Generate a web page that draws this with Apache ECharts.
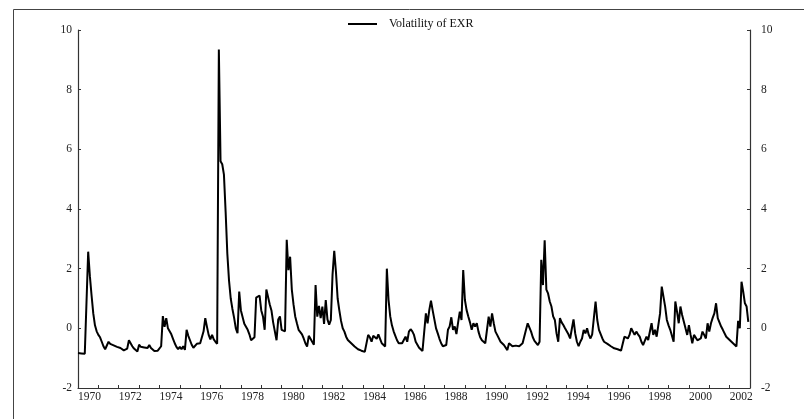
<!DOCTYPE html>
<html>
<head>
<meta charset="utf-8">
<script src="https://cdn.jsdelivr.net/npm/echarts@6/dist/echarts.min.js"></script>
<style>html,body{margin:0;padding:0;background:#fff}#c{width:804px;height:419px}</style>
</head>
<body>
<div id="c"></div>
<script>
// Monthly series, 1970:01 - 2002:12
var startYear = 1970;
var seriesName = 'Volatility of EXR';
var v1970 = [-0.83,-0.84,-0.84,-0.85,-0.85,-0.86,2.57,1.75,1.1,0.5,0.1,-0.1];
var v1971 = [-0.22,-0.3,-0.45,-0.6,-0.7,-0.76,-0.45,-0.52,-0.5,-0.57,-0.55,-0.62];
var v1972 = [-0.62,-0.66,-0.7,-0.74,-0.7,-0.68,-0.4,-0.5,-0.6,-0.68,-0.74,-0.78];
var v1973 = [-0.55,-0.62,-0.6,-0.64,-0.6,-0.66,-0.56,-0.66,-0.72,-0.76,-0.72,-0.75];
var v1974 = [-0.72,-0.6,0.41,0.05,0.34,0.0,-0.05,-0.2,-0.35,-0.5,-0.62,-0.7];
var v1975 = [-0.62,-0.7,-0.6,-0.72,-0.05,-0.25,-0.4,-0.55,-0.65,-0.6,-0.52,-0.5];
var v1976 = [-0.5,-0.52,-0.1,0.34,0.05,-0.22,-0.37,-0.22,-0.37,-0.45,-0.52,9.35];
var v1977 = [5.6,5.5,5.15,3.9,2.5,1.6,1.0,0.65,0.35,0.0,-0.16,1.23];
var v1978 = [0.6,0.55,0.15,0.2,-0.05,-0.2,-0.4,-0.35,-0.3,1.03,1.05,1.1];
var v1979 = [0.6,0.4,-0.05,1.3,1.05,0.8,0.6,0.2,-0.1,-0.4,0.3,0.4];
var v1980 = [-0.05,-0.1,-0.1,2.97,1.95,2.4,1.3,0.8,0.4,0.17,-0.05,-0.11];
var v1981 = [-0.2,-0.34,-0.5,-0.61,-0.25,-0.3,-0.45,-0.55,1.45,0.39,0.75,0.34];
var v1982 = [0.73,0.15,0.95,0.3,0.12,0.28,1.8,2.6,1.9,1.0,0.6,0.25];
var v1983 = [0.0,-0.11,-0.28,-0.39,-0.34,-0.5,-0.55,-0.61,-0.66,-0.7,-0.73,-0.75];
var v1984 = [-0.77,-0.79,-0.8,-0.22,-0.3,-0.45,-0.25,-0.3,-0.35,-0.2,-0.35,-0.5];
var v1985 = [-0.56,-0.61,2.0,0.95,0.4,0.1,-0.1,-0.25,-0.4,-0.5,-0.45,-0.5];
var v1986 = [-0.48,-0.28,-0.45,-0.11,-0.03,-0.1,-0.22,-0.45,-0.55,-0.65,-0.7,-0.76];
var v1987 = [-0.78,0.5,0.17,0.61,0.93,0.6,0.3,0.0,-0.17,-0.35,-0.5,-0.6];
var v1988 = [-0.61,-0.56,-0.05,0.06,0.37,-0.05,0.06,-0.19,0.2,0.56,0.28,1.95];
var v1989 = [0.95,0.61,0.4,0.2,-0.05,0.17,0.06,0.17,-0.11,-0.3,-0.4,-0.45];
var v1990 = [-0.5,-0.45,0.39,0.06,0.5,0.17,-0.11,-0.22,-0.28,-0.45,-0.5,-0.56];
var v1991 = [-0.6,-0.73,-0.5,-0.56,-0.6,-0.61,-0.58,-0.64,-0.6,-0.56,-0.5,-0.45];
var v1992 = [-0.05,0.17,0.19,-0.11,-0.3,-0.42,-0.45,-0.56,-0.45,2.3,1.45,2.95];
var v1993 = [1.3,1.17,0.9,0.73,0.4,0.28,-0.17,-0.45,0.34,0.2,0.11,0.0];
var v1994 = [-0.05,-0.2,-0.34,-0.28,0.3,-0.17,-0.45,-0.6,-0.45,-0.34,-0.05,-0.17];
var v1995 = [0.0,-0.22,-0.34,-0.2,-0.17,0.9,0.28,-0.05,-0.11,-0.34,-0.45,-0.48];
var v1996 = [-0.52,-0.56,-0.6,-0.61,-0.67,-0.68,-0.7,-0.75,-0.75,-0.74,-0.28,-0.32];
var v1997 = [-0.34,-0.22,0.0,-0.03,-0.22,-0.11,-0.2,-0.28,-0.45,-0.56,-0.61,-0.28];
var v1998 = [-0.39,-0.45,0.17,-0.22,-0.05,-0.28,-0.22,0.5,1.4,1.38,0.73,0.28];
var v1999 = [0.1,-0.05,-0.11,-0.45,0.9,0.56,0.17,0.73,0.45,0.39,0.0,-0.22];
var v2000 = [0.11,-0.22,-0.5,-0.22,-0.28,-0.4,-0.45,-0.34,-0.11,-0.22,-0.34,0.17];
var v2001 = [-0.11,0.17,0.35,0.5,0.84,0.34,0.28,0.06,-0.05,-0.11,-0.28,-0.34];
var v2002 = [-0.39,-0.45,-0.5,-0.56,-0.61,0.25,0.0,1.56,1.23,0.84,0.73,0.22];

var years = [v1970,v1971,v1972,v1973,v1974,v1975,v1976,v1977,v1978,v1979,v1980,v1981,v1982,v1983,v1984,v1985,v1986,v1987,v1988,v1989,v1990,v1991,v1992,v1993,v1994,v1995,v1996,v1997,v1998,v1999,v2000,v2001,v2002];

var data = [];
years.forEach(function (arr, yi) {
  arr.forEach(function (v, mi) {
    data.push([startYear + yi + mi / 12, v]);
  });
});

var FONT = 'Liberation Serif';
var chart = echarts.init(document.getElementById('c'), null, {renderer: 'canvas'});
var axisCommon = {
  min: -2, max: 10, interval: 2,
  axisLine: {show: true, lineStyle: {color: '#333', width: 1.2}},
  axisTick: {show: true, inside: true, length: 3, lineStyle: {color: '#333'}},
  splitLine: {show: false},
  axisLabel: {fontFamily: FONT, fontSize: 11.5, color: '#222'}
};
chart.setOption({
  animation: false,
  backgroundColor: '#fff',
  graphic: [{
    type: 'rect', left: 11, top: 7, silent: true,
    shape: {width: 900, height: 600},
    style: {fill: 'none', stroke: '#444', lineWidth: 1}
  }],
  legend: {
    left: 348, top: 18, padding: 0,
    icon: 'rect', itemWidth: 29, itemHeight: 2,
    textStyle: {fontFamily: FONT, fontSize: 12, color: '#111', padding: [0, 0, 0, 7]},
    data: [seriesName]
  },
  grid: {left: 78, right: 54, top: 30, bottom: 31, containLabel: false},
  xAxis: {
    type: 'value', min: 1970, max: 2003, interval: 1,
    axisLine: {show: true, onZero: false, lineStyle: {color: '#333', width: 1.2}},
    axisTick: {show: true, inside: true, length: 3, lineStyle: {color: '#333'}},
    splitLine: {show: false},
    axisLabel: {
      fontFamily: FONT, fontSize: 11.5, color: '#222', margin: 3, align: 'left',
      formatter: function (v) { return (Math.round(v) % 2 === 0 && v < 2003) ? String(Math.round(v)) : ''; }
    }
  },
  yAxis: [
    Object.assign({}, axisCommon, {type: 'value', position: 'left',
      axisLabel: Object.assign({}, axisCommon.axisLabel, {margin: 6})}),
    Object.assign({}, axisCommon, {type: 'value', position: 'right',
      axisLabel: Object.assign({}, axisCommon.axisLabel, {margin: 11})})
  ],
  series: [{
    name: seriesName, type: 'line', data: data, yAxisIndex: 0,
    showSymbol: false, symbol: 'none',
    lineStyle: {color: '#000', width: 2}, itemStyle: {color: '#000'}
  }]
});
</script>
</body>
</html>
